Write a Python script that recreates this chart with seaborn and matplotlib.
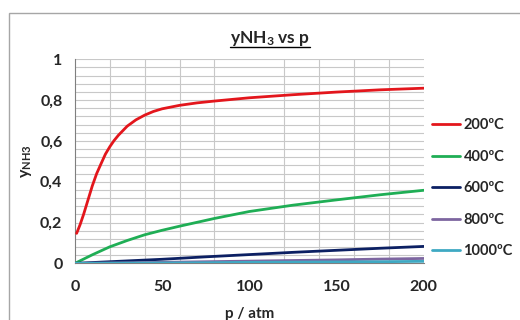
import numpy as np
import pandas as pd
import matplotlib
matplotlib.use("Agg")
import matplotlib.pyplot as plt
import seaborn as sns
from matplotlib.ticker import MultipleLocator, FuncFormatter
from matplotlib.lines import Line2D
from matplotlib.patches import Rectangle

# values
p_200 = [1, 3, 5, 7.5, 10, 12.5, 15, 17.5, 20, 22.5, 25, 27.5, 30, 35, 40, 45, 50,
         60, 70, 80, 90, 100, 125, 150, 175, 200]
y_200 = [0.147, 0.19, 0.24, 0.31, 0.38, 0.44, 0.488, 0.535, 0.571, 0.602, 0.628, 0.65,
         0.672, 0.703, 0.726, 0.744, 0.757, 0.774, 0.786, 0.795, 0.803, 0.811, 0.826,
         0.839, 0.85, 0.858]
p_400 = [0, 10, 20, 30, 40, 50, 60, 80, 100, 125, 150, 175, 200]
y_400 = [0.0, 0.042, 0.081, 0.112, 0.14, 0.162, 0.182, 0.22, 0.254, 0.285, 0.311, 0.336, 0.358]
p_hot = [0, 25, 50, 75, 100, 125, 150, 175, 200]
y_600 = [0.0, 0.01, 0.02, 0.032, 0.043, 0.054, 0.064, 0.074, 0.083]
y_800 = [0.0, 0.002, 0.005, 0.008, 0.011, 0.014, 0.017, 0.021, 0.024]
y_1000 = [0.0, 0.001, 0.002, 0.003, 0.005, 0.006, 0.007, 0.008, 0.01]
series_names = ["200ºC", "400ºC", "600ºC", "800ºC", "1000ºC"]
colors = ["#e3161c", "#1fae55", "#0c2063", "#7d66a0", "#3fa9c3"]

frames = []
for name, pp, vals in zip(series_names, [p_200, p_400, p_hot, p_hot, p_hot],
                          [y_200, y_400, y_600, y_800, y_1000]):
    frames.append(pd.DataFrame({"p": pp, "y": vals, "T": name}))
df = pd.concat(frames, ignore_index=True)

sns.set_style("white")
plt.rcParams["font.family"] = ["Lato", "DejaVu Sans"]
plt.rcParams["font.weight"] = "bold"
plt.rcParams["mathtext.default"] = "regular"

fig = plt.figure(figsize=(5.2, 3.2), dpi=100)
ax = fig.add_axes([0.144, 0.177, 0.671, 0.638])

sns.lineplot(data=df, x="p", y="y", hue="T", palette=colors, linewidth=2.0,
             ax=ax, legend=False, zorder=3)

ax.set_xlim(0, 200)
ax.set_ylim(0, 1)
ax.xaxis.set_major_locator(MultipleLocator(50))
ax.xaxis.set_minor_locator(MultipleLocator(20))
ax.yaxis.set_major_locator(MultipleLocator(0.2))
ax.yaxis.set_minor_locator(MultipleLocator(0.04))
ax.yaxis.set_major_formatter(FuncFormatter(lambda v, _: f"{v:g}".replace(".", ",")))

ax.grid(False)
ax.xaxis.grid(True, which="minor", color="#c8c8c8", linewidth=0.8)
ax.yaxis.grid(True, which="both", color="#c8c8c8", linewidth=0.8)
ax.set_axisbelow(True)
ax.tick_params(which="minor", length=0)
ax.tick_params(which="major", length=4, width=0.8, color="#7f7f7f",
               labelsize=11.5, direction="out")
ax.tick_params(axis="x", pad=8)
ax.tick_params(axis="y", pad=5)
for s in ["top", "right"]:
    ax.spines[s].set_visible(False)
for s in ["left", "bottom"]:
    ax.spines[s].set_color("#7f7f7f")
    ax.spines[s].set_linewidth(0.8)
for lbl in ax.get_xticklabels() + ax.get_yticklabels():
    lbl.set_fontweight("bold")

ax.set_xlabel("p / atm", fontsize=11, fontweight="bold", labelpad=9)
ax.set_ylabel("y$_{NH3}$", fontsize=11.5, fontweight="bold", labelpad=4)

title = fig.text(0.519, 0.88, "yNH$_3$ vs p", ha="center", va="center",
                 fontsize=12.5, fontweight="bold")

handles = [Line2D([], [], color=c, linewidth=2.0) for c in colors]
fig.legend(handles, series_names, loc="center left", bbox_to_anchor=(0.831, 0.411),
           frameon=False, handlelength=1.9, handletextpad=0.25, borderpad=0,
           borderaxespad=0, labelspacing=1.2, prop={"weight": "bold", "size": 10.5})

# underline the title
fig.canvas.draw()
bb = title.get_window_extent().transformed(fig.transFigure.inverted())
fig.add_artist(Line2D([bb.x0, bb.x1], [bb.y0 + 0.004, bb.y0 + 0.004],
                      color="black", linewidth=1.0, transform=fig.transFigure))

# outer chart border
fig.add_artist(Rectangle((9 / 520, -0.05), 1.2, 1 - 13 / 320 + 0.05,
                         transform=fig.transFigure, fill=False,
                         edgecolor="#a6a6a6", linewidth=1.0))

fig.savefig("out.png", dpi=100)
